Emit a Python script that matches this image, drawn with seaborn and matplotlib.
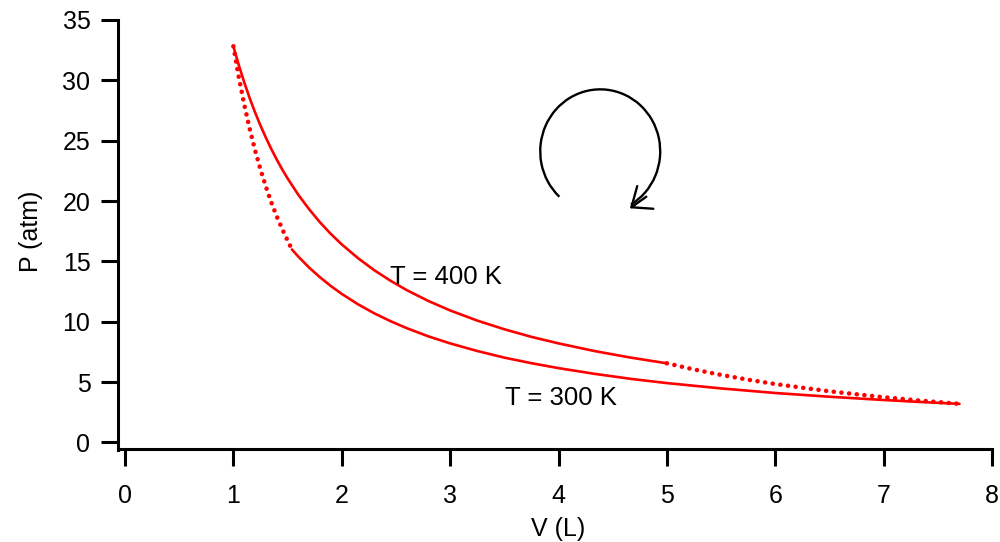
import matplotlib
matplotlib.use('Agg')
import matplotlib.pyplot as plt
from matplotlib.patches import Arc
import numpy as np
import seaborn as sns

# isotherm T = 400 K (A -> B)
v_hot = [1.0, 1.05, 1.1, 1.15, 1.2, 1.25, 1.3, 1.35, 1.4, 1.45, 1.5, 1.6, 1.7, 1.8, 1.9, 2.0,
         2.15, 2.3, 2.45, 2.6, 2.8, 3.0, 3.25, 3.5, 3.75, 4.0, 4.33, 4.66, 5.0]
p_hot = [32.82, 31.26, 29.84, 28.54, 27.35, 26.26, 25.25, 24.31, 23.44, 22.63, 21.88, 20.51, 19.31,
         18.23, 17.27, 16.41, 15.27, 14.27, 13.40, 12.62, 11.72, 10.94, 10.10, 9.38, 8.75, 8.21,
         7.58, 7.04, 6.56]

# isotherm T = 300 K (D -> C)
v_cold = [1.54, 1.6, 1.7, 1.8, 1.9, 2.0, 2.15, 2.3, 2.45, 2.6, 2.8, 3.0, 3.25, 3.5, 3.75, 4.0,
          4.33, 4.66, 5.0, 5.5, 6.0, 6.5, 7.0, 7.35, 7.7]
p_cold = [15.99, 15.39, 14.48, 13.68, 12.96, 12.31, 11.45, 10.70, 10.05, 9.47, 8.79, 8.21, 7.58,
          7.03, 6.57, 6.16, 5.69, 5.28, 4.92, 4.48, 4.10, 3.79, 3.52, 3.35, 3.20]

# adiabats (dotted)
v_ad1 = [1.0, 1.05, 1.1, 1.15, 1.2, 1.25, 1.3, 1.35, 1.4, 1.47, 1.54]
p_ad1 = [32.82, 30.26, 28.00, 26.00, 24.22, 22.63, 21.19, 19.89, 18.73, 17.30, 15.99]
v_ad2 = [5.0, 5.25, 5.5, 5.75, 6.0, 6.5, 7.0, 7.35, 7.7]
p_ad2 = [6.56, 6.05, 5.60, 5.20, 4.84, 4.24, 3.75, 3.46, 3.20]

labels = ['T = 400 K', 'T = 300 K']

sns.set_style('ticks')
plt.rcParams['font.family'] = ['Liberation Sans', 'DejaVu Sans']
plt.rcParams['text.color'] = 'black'
plt.rcParams['axes.labelcolor'] = 'black'

fig = plt.figure(figsize=(10, 5.42), dpi=100)
ax = fig.add_axes([0.125, 0.1836, 0.867, 0.7795])

red = '#ff0000'
sns.lineplot(x=v_hot, y=p_hot, ax=ax, color=red, lw=1.9, sort=False,
             solid_joinstyle='round')
sns.lineplot(x=v_cold, y=p_cold, ax=ax, color=red, lw=1.9, sort=False,
             solid_joinstyle='round')
for vv, pp in [(v_ad1, p_ad1), (v_ad2, p_ad2)]:
    sns.lineplot(x=vv, y=pp, ax=ax, color=red, lw=3.3, sort=False,
                 linestyle=(0, (0.01, 1.67)), dash_capstyle='round')

ax.text(2.445, 13.71, labels[0], fontsize=18.5, ha='left', va='center', color='black')
ax.text(3.506, 3.69, labels[1], fontsize=18.5, ha='left', va='center', color='black')

# cycle direction arrow (angles given on screen, converted to data space)
sx, sy = 108.4, 12.07
def data_angle(deg):
    t = np.radians(deg)
    return np.degrees(np.arctan2(np.sin(t) / sy, np.cos(t) / sx))
a1 = data_angle(-60)
a2 = data_angle(228)
if a2 < a1:
    a2 += 360
ax.add_patch(Arc((4.385, 24.12), 1.107, 10.27, theta1=a1, theta2=a2,
                 color='black', lw=1.7))
ax.annotate('', xy=(4.659, 19.40), xytext=(4.810, 20.36),
            arrowprops=dict(arrowstyle='->,head_length=1.22,head_width=1.0',
                            mutation_scale=10, color='black', lw=1.7,
                            shrinkA=0, shrinkB=0))

ax.set_xlim(0, 8)
ax.set_ylim(0, 35)
ax.set_xticks(range(0, 9))
ax.set_yticks(range(0, 36, 5))
ax.set_xlabel('V (L)', fontsize=18, labelpad=6)
ax.set_ylabel('P (atm)', fontsize=18, labelpad=14)

sns.despine(ax=ax)
ax.spines['left'].set_position(('outward', 4.7))
ax.spines['bottom'].set_position(('outward', 5))
ax.spines['left'].set_bounds(-0.6, 35)
ax.spines['bottom'].set_bounds(-0.06, 8)
for s in ['left', 'bottom']:
    ax.spines[s].set_linewidth(2.2)
    ax.spines[s].set_color('black')
ax.tick_params(axis='both', direction='out', length=12.2, width=2.2,
               color='black', labelsize=18, labelcolor='black')
ax.tick_params(axis='x', pad=13)
ax.tick_params(axis='y', pad=8)

fig.savefig('out.png', dpi=100)
